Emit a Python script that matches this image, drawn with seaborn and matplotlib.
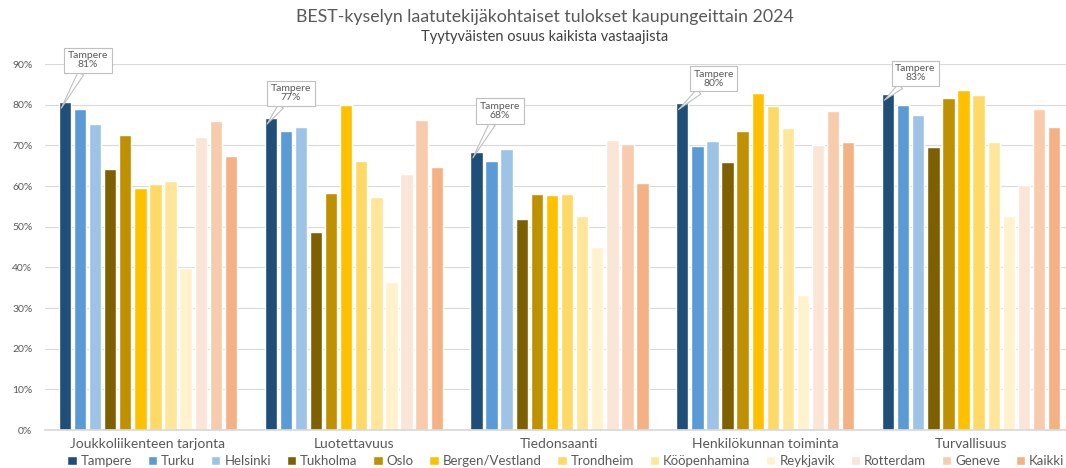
import pandas as pd
import seaborn as sns
import matplotlib.pyplot as plt
from matplotlib.ticker import PercentFormatter

# categories and cities
categories = ['Joukkoliikenteen tarjonta', 'Luotettavuus', 'Tiedonsaanti',
              'Henkilökunnan toiminta', 'Turvallisuus']
cities = ['Tampere', 'Turku', 'Helsinki', 'Tukholma', 'Oslo', 'Bergen/Vestland',
          'Trondheim', 'Kööpenhamina', 'Reykjavik', 'Rotterdam', 'Geneve', 'Kaikki']

# share of satisfied respondents (%), one list per category, in city order
tarjonta = [80.6, 78.9, 75.2, 64.3, 72.5, 59.4, 60.5, 61.2, 39.8, 72.1, 76.1, 67.4]
luotettavuus = [76.7, 73.6, 74.4, 48.6, 58.2, 79.9, 66.2, 57.4, 36.5, 62.9, 76.3, 64.6]
tiedonsaanti = [68.4, 66.2, 69.0, 52.0, 58.1, 57.9, 58.0, 52.6, 44.9, 71.4, 70.3, 60.8]
henkilokunta = [80.3, 69.9, 71.0, 66.0, 73.5, 82.9, 79.7, 74.3, 33.3, 70.2, 78.4, 70.9]
turvallisuus = [82.6, 79.8, 77.5, 69.5, 81.6, 83.5, 82.3, 70.8, 52.7, 60.2, 78.9, 74.5]

colors = ['#1F4E79', '#5B9BD5', '#9DC3E6', '#7F6000', '#BF9000', '#FFC000',
          '#FFD966', '#FFE699', '#FFF2CC', '#FBE5D6', '#F8CBAD', '#F4B183']

rows = []
for cat, vals in zip(categories, [tarjonta, luotettavuus, tiedonsaanti, henkilokunta, turvallisuus]):
    for city, v in zip(cities, vals):
        rows.append({'kategoria': cat, 'kaupunki': city, 'osuus': v})
df = pd.DataFrame(rows)

sns.set_theme(style='white')
plt.rcParams['font.family'] = ['Lato', 'DejaVu Sans']
grey = '#595959'

fig = plt.figure(figsize=(10.66, 4.68), dpi=100)
ax = fig.add_axes([45 / 1066, 38 / 468, 1029 / 1066, 366 / 468])
sns.barplot(data=df, x='kategoria', y='osuus', hue='kaupunki', hue_order=cities,
            palette=colors, saturation=1, width=0.88, gap=0.18, ax=ax, errorbar=None)

ax.set_ylim(0, 90)
ax.set_yticks(range(0, 91, 10))
ax.yaxis.set_major_formatter(PercentFormatter(100, decimals=0))
ax.yaxis.grid(True, color='#d9d9d9', lw=0.8)
ax.set_axisbelow(True)
for s in ['top', 'right', 'left']:
    ax.spines[s].set_visible(False)
ax.spines['bottom'].set_color('#d9d9d9')
ax.tick_params(axis='both', length=0, colors=grey, labelsize=7.5)
ax.tick_params(axis='y', pad=9)
ax.tick_params(axis='x', pad=6, labelsize=10)
ax.set_xlabel('')
ax.set_ylabel('')

# callouts for Tampere
offsets = [(27, 48), (24, 31), (27, 47), (35, 31), (31, 27)]
for bar, (dx, dy) in zip(ax.containers[0], offsets):
    h = bar.get_height()
    ax.annotate(f'Tampere\n{round(h)}%', xy=(bar.get_x() + bar.get_width() * 0.2, h - 1.5),
                xytext=(dx * 0.72, dy * 0.72), textcoords='offset points',
                ha='center', va='center', fontsize=7.5, color=grey, linespacing=1.0,
                bbox=dict(boxstyle='square,pad=0.35', fc='white', ec='#bfbfbf', lw=0.8),
                arrowprops=dict(arrowstyle='wedge,tail_width=0.6', fc='white', ec='#bfbfbf',
                                lw=0.8, shrinkA=0, shrinkB=0))

handles, labels = ax.get_legend_handles_labels()
ax.legend(handles, labels, loc='center', bbox_to_anchor=(566 / 1066, 1 - 461 / 468),
          bbox_transform=fig.transFigure, ncol=12, frameon=False, fontsize=9.5,
          handlelength=0.7, handleheight=0.7, handletextpad=0.3, columnspacing=1.2,
          labelcolor=grey)

fig.text(545 / 1066, 1 - 17 / 468, 'BEST-kyselyn laatutekijäkohtaiset tulokset kaupungeittain 2024',
         ha='center', va='center', fontsize=12.8, color=grey)
fig.text(545 / 1066, 1 - 37 / 468, 'Tyytyväisten osuus kaikista vastaajista',
         ha='center', va='center', fontsize=10.5, color='#404040')

fig.savefig('out.png', dpi=100)
